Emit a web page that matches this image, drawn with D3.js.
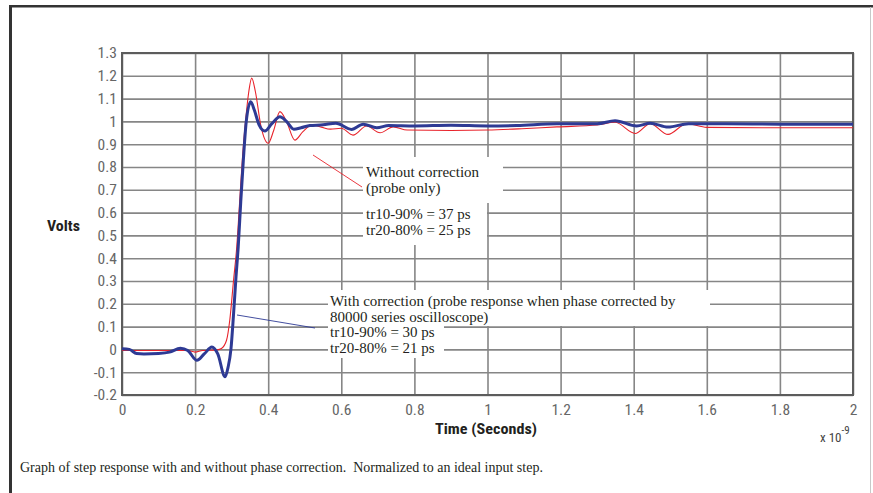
<!DOCTYPE html>
<html>
<head>
<meta charset="utf-8">
<script src="https://cdn.jsdelivr.net/npm/d3@7"></script>
<style>
  body { margin: 0; background: #fff; }
  .tick text { font-family: "Roboto Condensed", Roboto, sans-serif; font-size: 15.5px; fill: #666; }
  .note { font-family: "Liberation Serif", "Times New Roman", serif; font-size: 15px; fill: #231f20; white-space: pre; }
  .lab { font-family: "Roboto Condensed", Roboto, sans-serif; font-weight: bold; fill: #231f20; }
</style>
</head>
<body>
<div id="chart"></div>
<script>
// CONSTANTS
const width = 873,
  height = 493,
  margin = { top: 53, right: 20, bottom: 98, left: 122 };

// DATA (time in ns, i.e. x 10^-9 s ; volts normalized)
const blueTime = [0, 0.02, 0.04, 0.06, 0.1, 0.13, 0.16, 0.18, 0.205, 0.225, 0.246, 0.262, 0.282, 0.29, 0.298, 0.305, 0.312, 0.318, 0.325, 0.332, 0.34, 0.352, 0.362, 0.375, 0.391, 0.41, 0.432, 0.45, 0.47, 0.49, 0.514, 0.55, 0.585, 0.628, 0.66, 0.697, 0.73, 0.8, 0.9, 1.0, 1.08, 1.19, 1.3, 1.349, 1.408, 1.445, 1.494, 1.55, 1.65, 1.8, 2.0];
const blueVolts = [0.003, 0.0, -0.018, -0.02, -0.018, -0.012, 0.005, -0.005, -0.048, -0.02, 0.01, -0.02, -0.12, -0.08, 0.0, 0.15, 0.32, 0.45, 0.65, 0.83, 1.0, 1.086, 1.05, 0.985, 0.958, 0.99, 1.02, 1.0, 0.966, 0.972, 0.982, 0.985, 0.992, 0.965, 0.988, 0.972, 0.982, 0.98, 0.983, 0.98, 0.982, 0.99, 0.99, 1.003, 0.98, 0.992, 0.975, 0.99, 0.99, 0.988, 0.988];

const redTime = [0, 0.1, 0.18, 0.2, 0.22, 0.26, 0.272, 0.286, 0.295, 0.305, 0.314, 0.322, 0.33, 0.338, 0.346, 0.355, 0.365, 0.38, 0.4, 0.415, 0.432, 0.45, 0.473, 0.495, 0.52, 0.545, 0.57, 0.6, 0.632, 0.669, 0.706, 0.742, 0.78, 0.9, 1.0, 1.094, 1.19, 1.3, 1.349, 1.404, 1.445, 1.494, 1.545, 1.6, 1.8, 2.0];
const redVolts = [-0.005, -0.005, -0.005, -0.012, -0.005, -0.002, 0.004, 0.04, 0.13, 0.3, 0.45, 0.65, 0.85, 1.0, 1.12, 1.19, 1.13, 0.98, 0.904, 0.96, 1.043, 1.0, 0.918, 0.955, 0.984, 0.975, 0.966, 0.97, 0.94, 0.98, 0.95, 0.976, 0.962, 0.96, 0.962, 0.968, 0.976, 0.984, 0.996, 0.947, 0.99, 0.943, 0.99, 0.974, 0.972, 0.972];

const xTicks = [0, 0.2, 0.4, 0.6, 0.8, 1, 1.2, 1.4, 1.6, 1.8, 2];
const yTicks = [-0.2, -0.1, 0, 0.1, 0.2, 0.3, 0.4, 0.5, 0.6, 0.7, 0.8, 0.9, 1, 1.1, 1.2, 1.3];

const noteWithout = ["Without correction", "(probe only)", "", "tr10-90% = 37 ps", "tr20-80% = 25 ps"];
const noteWith = ["With correction (probe response when phase corrected by", "80000 series oscilloscope)", "tr10-90% = 30 ps", "tr20-80% = 21 ps"];
const caption = "Graph of step response with and without phase correction.  Normalized to an ideal input step.";

// SCALES
const xScale = d3.scaleLinear().domain([0, 2]).range([margin.left, width - margin.right]);
const yScale = d3.scaleLinear().domain([-0.2, 1.3]).range([height - margin.bottom, margin.top]);
const fmt = d => String(+d.toFixed(1));

const svg = d3.select("#chart").append("svg")
  .attr("width", width)
  .attr("height", height);

// outer frame
svg.append("line").attr("x1", 10.5).attr("x2", 10.5).attr("y1", 5).attr("y2", height)
  .attr("stroke", "#333").attr("stroke-width", 3);
svg.append("line").attr("x1", 9).attr("x2", width).attr("y1", 6.2).attr("y2", 6.2)
  .attr("stroke", "#333").attr("stroke-width", 2.5);
svg.append("line").attr("x1", 870.5).attr("x2", 870.5).attr("y1", 7).attr("y2", height)
  .attr("stroke", "#c8c8c8").attr("stroke-width", 1);

// GRID
const plotW = xScale.range()[1] - xScale.range()[0];
const plotH = yScale.range()[0] - yScale.range()[1];

svg.append("g")
  .attr("transform", `translate(0, ${yScale(-0.2)})`)
  .call(d3.axisBottom(xScale).tickValues(xTicks).tickSize(-plotH).tickFormat(""))
  .call(g => g.select(".domain").remove())
  .call(g => g.selectAll("line").attr("stroke", "#868686").attr("stroke-width", 1.6));

svg.append("g")
  .attr("transform", `translate(${margin.left}, 0)`)
  .call(d3.axisLeft(yScale).tickValues(yTicks).tickSize(-plotW).tickFormat(""))
  .call(g => g.select(".domain").remove())
  .call(g => g.selectAll("line").attr("stroke", "#868686").attr("stroke-width", 1.6));

// annotation boxes (white behind the text hides the grid)
const boxes = [
  [363, 157, 140, 46], [363, 203, 124, 42],
  [328, 290, 382, 36], [328, 326, 116, 32]
];
svg.selectAll("rect.box").data(boxes).join("rect")
  .attr("class", "box")
  .attr("x", d => d[0]).attr("y", d => d[1])
  .attr("width", d => d[2]).attr("height", d => d[3])
  .attr("fill", "#fff");

// LABELS ON AXES
svg.append("g")
  .attr("transform", `translate(${margin.left}, 0)`)
  .call(d3.axisLeft(yScale).tickValues(yTicks).tickSize(0).tickPadding(5).tickFormat(fmt))
  .call(g => g.select(".domain").remove());

svg.append("g")
  .attr("transform", `translate(0, ${yScale(-0.2)})`)
  .call(d3.axisBottom(xScale).tickValues(xTicks).tickSize(0).tickPadding(9).tickFormat(fmt))
  .call(g => g.select(".domain").remove());

// plot box
svg.append("rect")
  .attr("x", margin.left).attr("y", margin.top)
  .attr("width", plotW).attr("height", plotH)
  .attr("fill", "none").attr("stroke", "#5c5c5c").attr("stroke-width", 2);

// LINES
const line = d3.line()
  .x(d => xScale(d[0]))
  .y(d => yScale(d[1]))
  .curve(d3.curveMonotoneX);

svg.append("path")
  .datum(redTime.map((t, i) => [t, redVolts[i]]))
  .attr("d", line)
  .attr("fill", "none").attr("stroke", "#e8232b").attr("stroke-width", 1.1);

svg.append("path")
  .datum(blueTime.map((t, i) => [t, blueVolts[i]]))
  .attr("d", line)
  .attr("fill", "none").attr("stroke", "#2e3a94").attr("stroke-width", 3);

// leader lines
svg.append("line").attr("x1", 313).attr("y1", 155).attr("x2", 362).attr("y2", 187)
  .attr("stroke", "#e8232b").attr("stroke-width", 0.9);
svg.append("line").attr("x1", 237).attr("y1", 315).attr("x2", 315).attr("y2", 328)
  .attr("stroke", "#2e3a94").attr("stroke-width", 0.9);

// annotation text
const wo = svg.append("text").attr("class", "note").attr("x", 366);
[177, 193, 0, 219, 235].forEach((y, i) => {
  if (noteWithout[i]) wo.append("tspan").attr("x", 366).attr("y", y).text(noteWithout[i]);
});
const wi = svg.append("text").attr("class", "note").attr("x", 330);
[306, 322, 337, 353].forEach((y, i) => {
  wi.append("tspan").attr("x", 330).attr("y", y).text(noteWith[i]);
});

// axis titles
svg.append("text").attr("class", "lab").attr("x", 47).attr("y", 231)
  .attr("textLength", 33).attr("lengthAdjust", "spacingAndGlyphs")
  .style("font-size", "15.5px").text("Volts");
svg.append("text").attr("class", "lab").attr("x", 435).attr("y", 434)
  .attr("textLength", 102).attr("lengthAdjust", "spacingAndGlyphs")
  .style("font-size", "15.5px").text("Time (Seconds)");

const expo = svg.append("text").attr("class", "lab")
  .attr("x", 820).attr("y", 442)
  .style("font-weight", "normal").style("font-size", "13px").style("fill", "#444");
expo.append("tspan").text("x 10");
expo.append("tspan").attr("dy", -8).style("font-size", "11px").text("-9");

svg.append("text").attr("class", "note").attr("x", 20).attr("y", 472)
  .style("font-size", "14px").text(caption);
</script>
</body>
</html>
